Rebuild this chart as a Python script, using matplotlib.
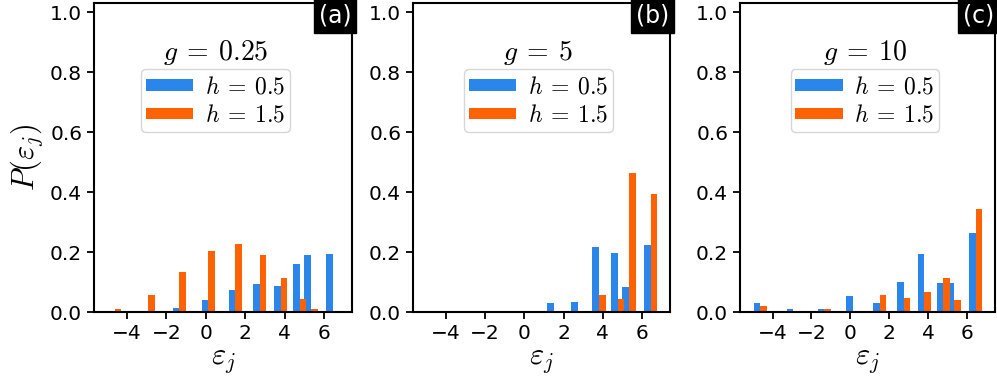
import matplotlib
matplotlib.use("Agg")
import matplotlib.pyplot as plt
import numpy as np

plt.rcParams['mathtext.fontset'] = 'cm'
plt.rcParams['font.family'] = ['DejaVu Sans']

levels = [-4.63, -2.93, -1.34, 0.13, 1.50, 2.74, 3.80, 4.76, 5.33, 6.43]

blue_a = [0, 0, 0.012, 0.039, 0.072, 0.093, 0.087, 0.159, 0.191, 0.193]
orange_a = [0.011, 0.058, 0.134, 0.203, 0.227, 0.189, 0.115, 0.045, 0.009, 0]

blue_b = [0, 0, 0, 0, 0.030, 0.032, 0.216, 0.198, 0.083, 0.224]
orange_b = [0, 0, 0, 0, 0.002, 0, 0.057, 0.042, 0.464, 0.392]

blue_c = [0.029, 0.009, 0.009, 0.053, 0.029, 0.100, 0.194, 0.096, 0.096, 0.263]
orange_c = [0.020, 0.003, 0.009, 0.002, 0.057, 0.048, 0.068, 0.112, 0.040, 0.342]

g_labels = [r'$g\:=\:0.25$', r'$g\:=\:5$', r'$g\:=\:10$']
h_labels = [r'$h\:=\:0.5$', r'$h\:=\:1.5$']
panel_labels = ['(a)', '(b)', '(c)']
xticks = [-4, -2, 0, 2, 4, 6]
yticks = [0.0, 0.2, 0.4, 0.6, 0.8, 1.0]

blue = '#2B86EC'
orange = '#FF6203'

fig = plt.figure(figsize=(9.97, 3.81), dpi=100)
rects = [(0.0943, 0.181, 0.2588, 0.811),
         (0.4142, 0.181, 0.2578, 0.811),
         (0.7422, 0.181, 0.2558, 0.811)]
centers = [0.47, 0.488, 0.49]
data = [(blue_a, orange_a), (blue_b, orange_b), (blue_c, orange_c)]

w = 0.34
x = np.array(levels)
for i, r in enumerate(rects):
    ax = fig.add_axes(r)
    b, o = data[i]
    ax.bar(x - w / 2, b, width=w, color=blue, label=h_labels[0])
    ax.bar(x + w / 2, o, width=w, color=orange, label=h_labels[1])
    ax.set_xlim(-5.67, 7.42)
    ax.set_ylim(0, 1.03)
    ax.set_xticks(xticks)
    ax.set_yticks(yticks)
    ax.set_xticklabels([f'{t}'.replace('-', '\u2212') for t in xticks])
    ax.tick_params(labelsize=14.5, width=1.3, length=5)
    for s in ax.spines.values():
        s.set_linewidth(1.5)
    ax.set_xlabel(r'$\varepsilon_j$', fontsize=22, labelpad=2)
    if i == 0:
        ax.set_ylabel(r'$P(\varepsilon_j)$', fontsize=22, labelpad=4)
    ax.text(centers[i], 0.841, g_labels[i], transform=ax.transAxes,
            ha='center', va='center', fontsize=20)
    ax.legend(loc='upper center', bbox_to_anchor=(centers[i], 0.785),
              borderaxespad=0, fontsize=17, handlelength=2.0,
              handleheight=0.4, labelspacing=0.2, handletextpad=0.5,
              borderpad=0.2, fancybox=True)
    ax.text(0.997, 0.997, panel_labels[i], transform=ax.transAxes,
            ha='right', va='top', fontsize=17, color='white',
            bbox=dict(boxstyle='square,pad=0.2', facecolor='black', edgecolor='black'))

fig.savefig('out.png', dpi=100)
